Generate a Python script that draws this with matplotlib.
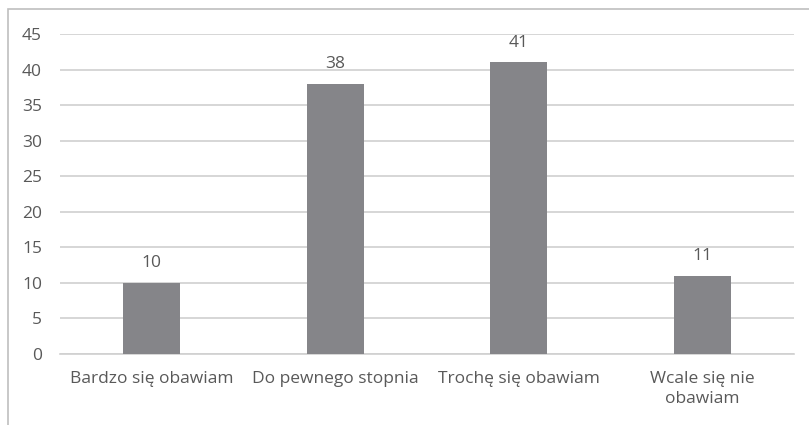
import matplotlib
matplotlib.use("Agg")
import matplotlib.pyplot as plt
from matplotlib.patches import Rectangle

categories = ["Bardzo się obawiam", "Do pewnego stopnia", "Trochę się obawiam", "Wcale się nie\nobawiam"]
values = [10, 38, 41, 11]
yticks = [0, 5, 10, 15, 20, 25, 30, 35, 40, 45]

plt.rcParams['font.family'] = ['Open Sans', 'DejaVu Sans']
W, H = 809, 425
fig = plt.figure(figsize=(W/100, H/100), dpi=100)
fig.patches.append(Rectangle((8/W, -0.1), 1.2, 1 - 9/H + 0.1, transform=fig.transFigure,
                             fill=False, edgecolor='#bfbfbf', linewidth=1.2))
ax = fig.add_axes([60/W, 1 - 354/H, (794-60)/W, (354-34)/H])
txt = '#595959'
fs = 12.5
x = list(range(len(categories)))
ax.bar(x, values, width=0.31, color='#858589', zorder=3)
for xi, v in zip(x, values):
    ax.text(xi, v + 2.8, str(v), ha='center', va='center', color=txt, fontsize=fs)
ax.set_xlim(-0.5, len(categories) - 0.5)
ax.set_ylim(0, 45)
ax.set_yticks(yticks)
ax.set_xticks(x)
ax.set_xticklabels(categories, fontsize=fs, color=txt, linespacing=1.4)
ax.tick_params(axis='y', labelsize=fs, labelcolor=txt, length=0, pad=13)
ax.tick_params(axis='x', length=0, pad=12)
ax.grid(axis='y', color='#d0d0d0', linewidth=1.2, zorder=0)
for s in ['left', 'right', 'top']:
    ax.spines[s].set_visible(False)
ax.spines['bottom'].set_color('#d0d0d0')
ax.spines['bottom'].set_linewidth(1.2)
fig.savefig('out.png', dpi=100)
